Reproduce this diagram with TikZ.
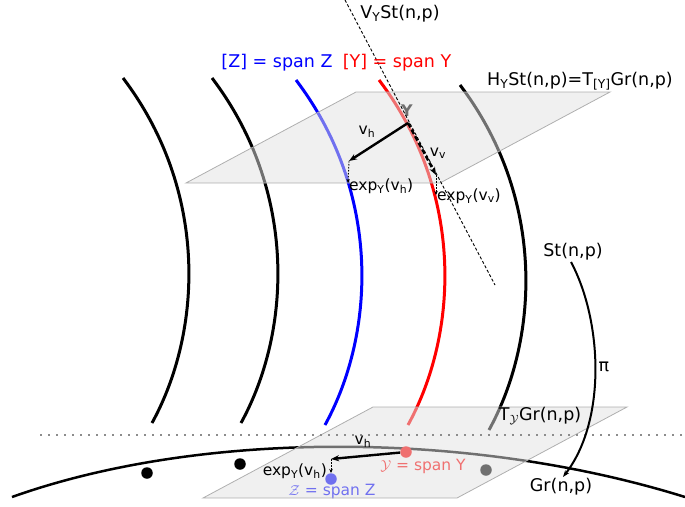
\documentclass[tikz,border=0pt]{standalone}
\usepackage{fontspec}
\setmainfont{DejaVu Sans}
\usetikzlibrary{arrows.meta}
\definecolor{lred}{RGB}{240,110,110}
\definecolor{lblue}{RGB}{115,115,245}
\definecolor{planefill}{RGB}{225,225,225}
\definecolor{planeedge}{RGB}{175,175,175}
\tikzset{
  fiber/.style={line width=3pt},
  plane/.style={fill=planefill,fill opacity=0.5,draw=planeedge,line width=0.8pt},
  big/.style={font=\fontsize{17.5}{20}\selectfont,inner sep=0pt},
  small/.style={font=\fontsize{15.5}{18}\selectfont,inner sep=0pt},
  vec/.style={line width=2.4pt,-{Stealth[length=8pt,width=6pt]}},
  drop/.style={line width=0.9pt,dash pattern=on 1.5pt off 1.5pt,-{Stealth[length=4pt,width=3.5pt]}},
  pt/.style={circle,inner sep=0pt,minimum size=11.5pt}
}
\begin{document}
\begin{tikzpicture}[x=1pt,y=-1pt]
\useasboundingbox (0,0) rectangle (685,506);
% fibers
\foreach \dx/\dy/\c in {0/0/black,89/0/black,173/2/blue,256/2/red,337/7/black}{
  \draw[fiber,\c,shift={(\dx,\dy)}] (123,78) .. controls (208,190) and (203,330) .. (152,423);
}
% Grassmann curve
\draw[line width=2.5pt] (12,497) .. controls (200,430) and (470,430) .. (685,497);
% points on Gr
\node[pt,fill=black] (p1) at (147,473) {};
\node[pt,fill=black] (p2) at (240,464) {};
\node[pt,fill=blue] (pz) at (331,479) {};
\node[pt,fill=red] (py) at (406,452) {};
\node[pt,fill=black] (p5) at (486,470) {};
\node[small,text=red] (ly) at (423,466) {$\mathcal{Y}$ = span Y};
\node[small,text=blue] (lz) at (332,491) {$\mathcal{Z}$ = span Z};
\node[font=\fontsize{16}{18}\selectfont\bfseries,inner sep=0pt] (Ylab) at (407,111) {Y};
% planes
\draw[plane] (186,183) -- (356,92) -- (610,92) -- (440,183) -- cycle;
\draw[plane] (203,498) -- (373,407) -- (627,407) -- (457,498) -- cycle;
% vertical space line
\coordinate (vs1) at (345,0);
\coordinate (vs2) at (495,285);
\draw[line width=0.9pt,dash pattern=on 3pt off 2pt] (vs1) -- (vs2);
% dotted horizontal
\coordinate (h1) at (40,435);
\coordinate (h2) at (685,435);
\draw[black!45,line width=1.5pt,dash pattern=on 1.5pt off 6.5pt] (h1) -- (h2);
% upper vectors
\coordinate (Y) at (408,123);
\coordinate (vh) at (349,161);
\coordinate (vv) at (436,175);
\coordinate (eh) at (348,183);
\coordinate (ev) at (436,195);
\draw[vec] (Y) -- (vh);
\draw[vec,dash pattern=on 5pt off 2.5pt] (Y) -- (vv);
\draw[drop] (vh) -- (eh);
\draw[drop] (vv) -- (ev);
\node[small] (lvh) at (367,132) {v\textsubscript{h}};
\node[small] (lvv) at (438,153) {v\textsubscript{v}};
\node[small,anchor=west] (leh) at (349,186) {exp\textsubscript{Y}(v\textsubscript{h})};
\node[small,anchor=west] (lev) at (437,196) {exp\textsubscript{Y}(v\textsubscript{v})};
% lower vectors
\coordinate (lvhend) at (331,459);
\coordinate (lehend) at (331,473);
\draw[vec] (py) -- (lvhend);
\draw[drop] (lvhend) -- (lehend);
\node[small] (lvh2) at (363,442) {v\textsubscript{h}};
\node[small,anchor=east] (leh2) at (327,471) {exp\textsubscript{Y}(v\textsubscript{h})};
% labels
\node[big] (VY) at (400,14) {V\textsubscript{Y}St(n,p)};
\node[big,text=blue] (Zl) at (277,63) {[Z] = span Z};
\node[big,text=red] (Yl) at (397,63) {[Y] = span Y};
\node[big] (HY) at (580,81) {H\textsubscript{Y}St(n,p)=T\textsubscript{[Y]}Gr(n,p)};
\node[big] (St) at (573,252) {St(n,p)};
\node[big] (Gr) at (561,487) {Gr(n,p)};
\node[big] (TG) at (540,416) {T\textsubscript{$\mathcal{Y}$}Gr(n,p)};
\node[big] (pi) at (604,367) {π};
% projection arrow
\coordinate (pis) at (571,262);
\coordinate (pie) at (563,477);
\draw[line width=2pt,-{Stealth[length=7pt,width=5pt]}] (pis) .. controls (602,320) and (607,420) .. (pie);
\end{tikzpicture}
\end{document}
